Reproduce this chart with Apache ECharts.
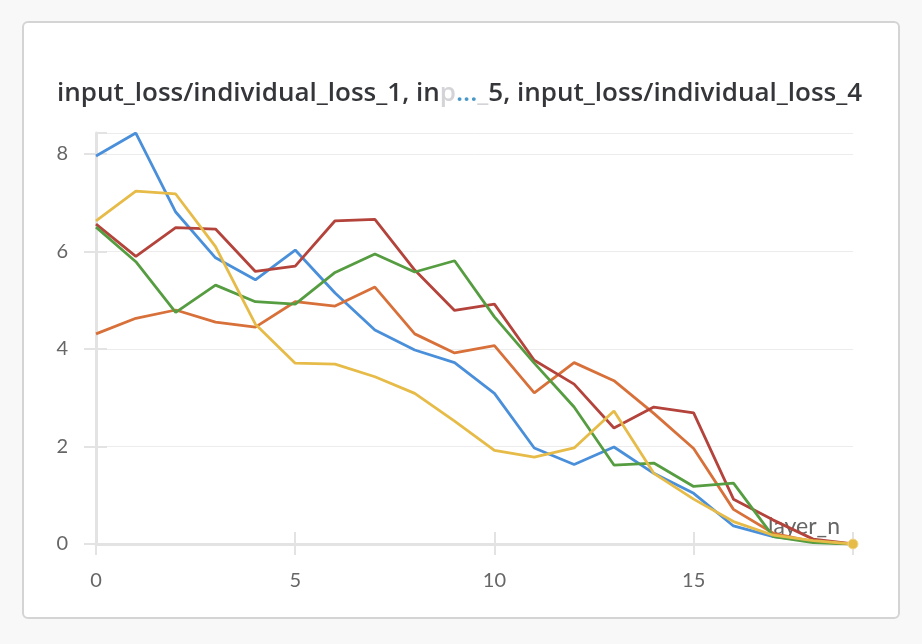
<!DOCTYPE html>
<html>
<head>
<meta charset="utf-8">
<script src="https://cdn.jsdelivr.net/npm/echarts@6/dist/echarts.min.js"></script>
<style>
  html, body { margin: 0; padding: 0; background: #f8f8f8; width: 922px; height: 644px; overflow: hidden; }
  #card { position: absolute; left: 22px; top: 21px; width: 874px; height: 594px; background: #fff; border: 2px solid #d4d4d4; border-radius: 6px; }
  #chart { position: absolute; left: 0; top: 0; width: 922px; height: 644px; }
</style>
</head>
<body>
<div id="card"></div>
<div id="chart"></div>
<script>
const layers = [0,1,2,3,4,5,6,7,8,9,10,11,12,13,14,15,16,17,18,19];
const seriesNames = [
  'input_loss/individual_loss_1',
  'input_loss/individual_loss_2',
  'input_loss/individual_loss_3',
  'input_loss/individual_loss_4',
  'input_loss/individual_loss_5'
];
const loss1 = [7.96, 8.43, 6.81, 5.87, 5.42, 6.03, 5.15, 4.39, 3.98, 3.72, 3.09, 1.97, 1.63, 1.99, 1.45, 1.04, 0.37, 0.15, 0.06, 0.0];
const loss2 = [4.31, 4.63, 4.80, 4.55, 4.45, 4.97, 4.88, 5.27, 4.31, 3.92, 4.07, 3.10, 3.72, 3.35, 2.68, 1.96, 0.71, 0.22, 0.05, 0.0];
const loss3 = [6.50, 5.79, 4.75, 5.31, 4.97, 4.92, 5.57, 5.95, 5.58, 5.81, 4.66, 3.71, 2.81, 1.62, 1.66, 1.18, 1.25, 0.15, 0.03, 0.0];
const loss4 = [6.56, 5.90, 6.49, 6.46, 5.59, 5.70, 6.63, 6.66, 5.62, 4.79, 4.92, 3.77, 3.28, 2.38, 2.81, 2.69, 0.92, 0.49, 0.10, 0.0];
const loss5 = [6.63, 7.24, 7.18, 6.10, 4.51, 3.71, 3.69, 3.43, 3.09, 2.52, 1.92, 1.78, 1.97, 2.73, 1.45, 0.92, 0.46, 0.18, 0.07, 0.0];
const xTicks = [0, 5, 10, 15];
const yTicks = [0, 2, 4, 6, 8];

const colors = ['#4a8fda', '#d8703a', '#559d40', '#b3433b', '#e6bb48'];
const allValues = [loss1, loss2, loss3, loss4, loss5];
const yMax = Math.max(...allValues.flat());

const FONT = 'Lato, "Open Sans", sans-serif';
const TFONT = '"Open Sans", sans-serif';
const TSIZE = 26;
const chart = echarts.init(document.getElementById('chart'), null, { renderer: 'canvas' });

function mk(vals, idx, lastDot) {
  return {
    name: seriesNames[idx],
    type: 'line',
    xAxisIndex: 0, yAxisIndex: 0,
    symbol: 'none',
    lineStyle: { width: 2.8, color: colors[idx] },
    itemStyle: { color: colors[idx] },
    data: vals.map((v, i) => {
      if (lastDot && i === vals.length - 1) {
        return { value: [layers[i], v], symbol: 'circle', symbolSize: 10, itemStyle: { color: colors[idx], borderColor: '#f0d890', borderWidth: 1 } };
      }
      return [layers[i], v];
    }),
    animation: false
  };
}

const axisGray = '#e3e3e3';
const option = {
  animation: false,
  title: {
    text: '{a|input_loss/individual_loss_1, in}{c|p}{b|...}{c|_}{a|5, input_loss/individual_loss_4}',
    left: 52, top: 76,
    textStyle: {
      fontSize: TSIZE, fontFamily: TFONT, fontWeight: 600,
      rich: {
        a: { fontFamily: TFONT, fontSize: TSIZE, fontWeight: 600, color: '#35363a' },
        b: { fontFamily: TFONT, fontSize: TSIZE, fontWeight: 600, color: '#4a98c9' },
        c: { fontFamily: TFONT, fontSize: TSIZE, fontWeight: 600, color: '#d4d4d8' }
      }
    }
  },
  grid: { left: 96, right: 69, top: 544 - yMax * 48.75, bottom: 100 },
  xAxis: [{
    type: 'value', min: 0, max: 19, interval: 5,
    name: 'layer_n', nameLocation: 'end', nameGap: -13,
    nameTextStyle: { fontFamily: FONT, fontSize: 23, color: '#666', align: 'right', verticalAlign: 'bottom', padding: [0, 0, 6, 0] },
    axisLine: { show: true, lineStyle: { color: axisGray, width: 3 } },
    axisTick: { show: true, length: 11, lineStyle: { color: axisGray, width: 2 } },
    axisLabel: { fontFamily: FONT, fontSize: 20, color: '#666', margin: 27,
      formatter: v => xTicks.includes(v) ? String(v) : '' },
    splitLine: { show: false }
  }, {
    type: 'value', min: 0, max: 19, interval: 5, position: 'bottom',
    axisLine: { show: false },
    axisTick: { show: true, inside: true, length: 12, lineStyle: { color: axisGray, width: 2 } },
    axisLabel: { show: false }, splitLine: { show: false }
  }],
  yAxis: [{
    type: 'value', min: 0, max: yMax, interval: 2,
    axisLine: { show: true, lineStyle: { color: axisGray, width: 3 } },
    axisTick: { show: true, length: 12, lineStyle: { color: axisGray, width: 2 } },
    axisLabel: { fontFamily: FONT, fontSize: 20, color: '#666', margin: 28, showMaxLabel: false,
      formatter: v => yTicks.includes(v) ? String(v) : '' },
    splitLine: { show: true, lineStyle: { color: '#ececec', width: 1 } }
  }, {
    type: 'value', min: 0, max: yMax, interval: 2, position: 'left',
    axisLine: { show: false },
    axisTick: { show: true, inside: true, length: 11, lineStyle: { color: axisGray, width: 2 } },
    axisLabel: { show: false }, splitLine: { show: false }
  }],
  series: [
    mk(loss1, 0, false),
    mk(loss2, 1, false),
    mk(loss4, 3, false),
    mk(loss3, 2, false),
    mk(loss5, 4, true)
  ]
};
chart.setOption(option);
</script>
</body>
</html>
